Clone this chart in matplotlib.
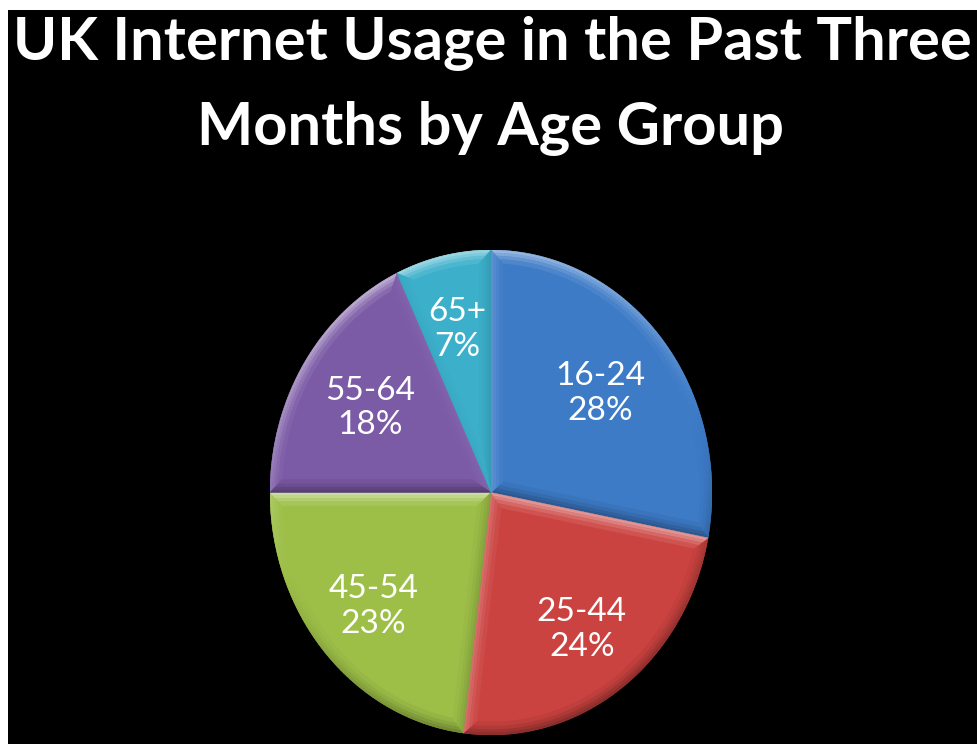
import numpy as np
import matplotlib
matplotlib.use("Agg")
import matplotlib.pyplot as plt
from matplotlib.patches import Rectangle
from matplotlib.collections import PolyCollection
from matplotlib.colors import to_rgb

# Data
age_groups = ["16-24", "25-44", "45-54", "55-64", "65+"]
shares = [28, 24, 23, 18, 7]
colors = ["#3d7bc7", "#cb4340", "#9dbf48", "#7b5aa6", "#3cb0cb"]
title_lines = ["UK Internet Usage in the Past Three", "Months by Age Group"]

W, H, DPI = 978, 744, 100
FONT = ["Lato", "DejaVu Sans"]
fig = plt.figure(figsize=(W / DPI, H / DPI), dpi=DPI, facecolor="black")

# white strips on the left and top edges
fig.patches.append(Rectangle((0, 0), 8 / W, 1, transform=fig.transFigure,
                             facecolor="white", edgecolor="none", zorder=0))
fig.patches.append(Rectangle((0, 1 - 10 / H), 1, 10 / H, transform=fig.transFigure,
                             facecolor="white", edgecolor="none", zorder=0))

# pie is drawn slightly taller than wide
left, right, top, bottom = 270, 712, 250, 735
ax = fig.add_axes([left / W, (H - bottom) / H, (right - left) / W, (bottom - top) / H])
ax.set_facecolor("none")

wedges, _ = ax.pie(shares, colors=colors, startangle=90, counterclock=False,
                   wedgeprops=dict(linewidth=0))
ax.set_aspect("auto")
ax.set_xlim(-1, 1)
ax.set_ylim(-1, 1)
ax.axis("off")

light = np.array([-0.35, 1.0])
light /= np.linalg.norm(light)


def shade(base, n, k):
    c = np.array(to_rgb(base))
    s = float(np.dot(n, light)) * k
    if s >= 0:
        return tuple(c + (1 - c) * 0.5 * s)
    return tuple(c * (1 - 0.32 * (-s)))


def outline(t1, t2, d, n):
    """Wedge outline inset by distance d: apex followed by arc points."""
    half = (t2 - t1) / 2
    if d == 0:
        apex = np.zeros(2)
        ia = np.linspace(t1, t2, n)
        arc = np.c_[np.cos(ia), np.sin(ia)]
    else:
        ri = 1 - d
        da = np.arcsin(d / ri)
        ia = np.linspace(t1 + da, t2 - da, n)
        arc = ri * np.c_[np.cos(ia), np.sin(ia)]
        apex = d / np.sin(half) * np.array([np.cos(t1 + half), np.sin(t1 + half)])
    return apex, arc, ia


def bevel(theta1, theta2, base, levels=(0.0, 0.012, 0.024, 0.038, 0.054), n=80):
    t1, t2 = np.radians(theta1), np.radians(theta2)
    quads, fcs = [], []
    n1 = np.array([np.cos(t1 - np.pi / 2), np.sin(t1 - np.pi / 2)])
    n2 = np.array([np.cos(t2 + np.pi / 2), np.sin(t2 + np.pi / 2)])
    weights = [1.0, 0.75, 0.45, 0.2]
    for j in range(len(levels) - 1):
        k = weights[j]
        a0, arc0, oa = outline(t1, t2, levels[j], n)
        a1, arc1, _ = outline(t1, t2, levels[j + 1], n)
        for i in range(n - 1):
            quads.append([arc0[i], arc0[i + 1], arc1[i + 1], arc1[i]])
            m = (oa[i] + oa[i + 1]) / 2
            fcs.append(shade(base, np.array([np.cos(m), np.sin(m)]), k))
        quads.append([a0, arc0[0], arc1[0], a1])
        fcs.append(shade(base, n1, k))
        quads.append([a0, a1, arc1[-1], arc0[-1]])
        fcs.append(shade(base, n2, k))
    return quads, fcs


for w, col in zip(wedges, colors):
    quads, fcs = bevel(w.theta1, w.theta2, col)
    pc = PolyCollection(quads, facecolors=fcs, edgecolors=fcs, linewidths=0.3,
                        zorder=3)
    ax.add_collection(pc)

# labels inside each slice
label_r = [0.64, 0.70, 0.71, 0.65, 0.69]
for w, grp, val, r in zip(wedges, age_groups, shares, label_r):
    mid = np.radians((w.theta1 + w.theta2) / 2)
    ax.text(r * np.cos(mid), r * np.sin(mid), f"{grp}\n{val}%",
            ha="center", va="center", color="white", fontsize=24,
            family=FONT, linespacing=1.2, zorder=5)

# title, sized so the first line spans the full width
t1 = fig.text(492.5 / W, 1 - 60 / H, title_lines[0], ha="center", va="baseline",
              color="white", fontsize=40, fontweight="bold", family=FONT)
renderer = fig.canvas.get_renderer()
width = t1.get_window_extent(renderer).width
size = 40 * 958 / width
t1.set_fontsize(size)
fig.text(0.502, 1 - 145 / H, title_lines[1], ha="center", va="baseline",
         color="white", fontsize=size, fontweight="bold", family=FONT)

fig.savefig("out.png", dpi=DPI, facecolor="black")
